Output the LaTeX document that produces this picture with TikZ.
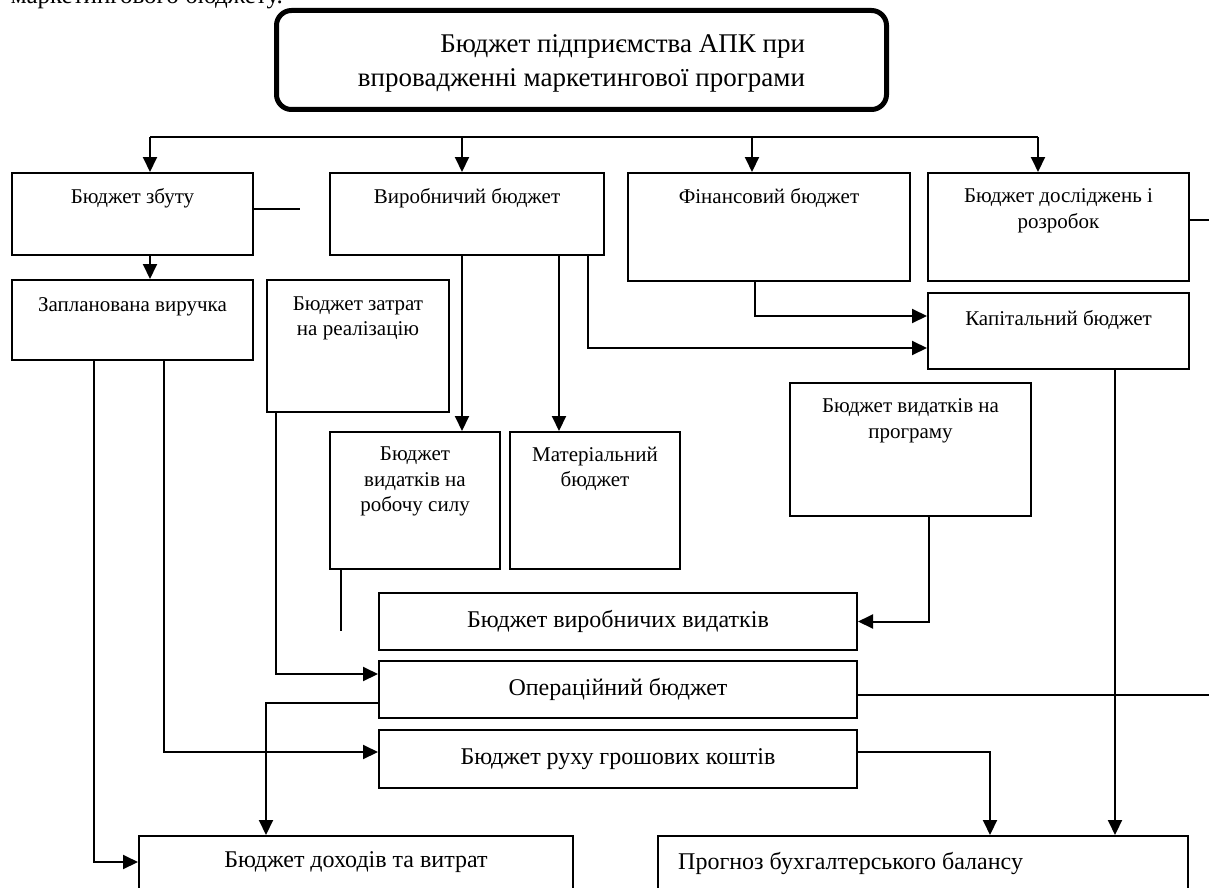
\documentclass[tikz,border=0pt]{standalone}
\usepackage{fontspec}
\setmainfont{Liberation Serif}
\usetikzlibrary{arrows.meta}
\newcommand{\smallfs}{\fontsize{21}{25.5}\selectfont}
\newcommand{\largefs}{\fontsize{24}{29}\selectfont}
\newcommand{\titlefs}{\fontsize{27}{34}\selectfont}
\tikzset{
  budg/.style={draw, line width=2pt, inner sep=0pt, anchor=north west},
  intxt/.style={anchor=north, align=center, inner sep=0pt, yshift=-#1, font=\smallfs},
  intxt/.default=16.5pt,
  arr/.style={line width=2pt, -{Triangle[length=15pt,width=14pt]}},
  ln/.style={line width=2pt}
}
\begin{document}
\begin{tikzpicture}[x=1pt,y=-1pt]
\useasboundingbox (0,0) rectangle (1209,888);
\clip (0,0) rectangle (1209,888);
\node[anchor=base east, inner sep=0pt, font=\fontsize{25}{30}\selectfont] (lead) at (283,4) {маркетингового бюджету.};
\node[budg, line width=5pt, rounded corners=15pt, minimum width=610pt, minimum height=99pt,
  label={[intxt=26pt, font=\titlefs, align=right]north:Бюджет підприємства АПК при\\впровадженні маркетингової програми}] (title) at (274,8) {};
\node[budg, minimum width=241pt, minimum height=82pt, label={[intxt]north:Бюджет збуту}] (zbut) at (11,172) {};
\node[budg, minimum width=274pt, minimum height=82pt, label={[intxt]north:Виробничий бюджет}] (vyrob) at (329,172) {};
\node[budg, minimum width=282pt, minimum height=108pt, label={[intxt]north:Фінансовий бюджет}] (fin) at (627,172) {};
\node[budg, minimum width=261pt, minimum height=108pt, label={[intxt]north:Бюджет досліджень і\\розробок}] (dosl) at (927,172) {};
\node[budg, minimum width=241pt, minimum height=80pt, label={[intxt=18pt]north:Запланована виручка}] (vyruch) at (11,279) {};
\node[budg, minimum width=182pt, minimum height=132pt, label={[intxt=17.5pt]north:Бюджет затрат\\на реалізацію}] (zatr) at (266,279) {};
\node[budg, minimum width=261pt, minimum height=76pt, label={[intxt=18pt]north:Капітальний бюджет}] (kapit) at (927,292) {};
\node[budg, minimum width=241pt, minimum height=133pt, label={[intxt]north:Бюджет видатків на\\програму}] (progr) at (789,382) {};
\node[budg, minimum width=170pt, minimum height=137pt, label={[intxt=15.7pt]north:Бюджет\\видатків на\\робочу силу}] (robsyla) at (329,431) {};
\node[budg, minimum width=170pt, minimum height=137pt, label={[intxt=15.7pt]north:Матеріальний\\бюджет}] (mater) at (509,431) {};
\node[budg, minimum width=478pt, minimum height=57pt, font=\largefs] (vyrvyd) at (378,592) {Бюджет виробничих видатків};
\node[budg, minimum width=478pt, minimum height=57pt, font=\largefs] (oper) at (378,660) {Операційний бюджет};
\node[budg, minimum width=478pt, minimum height=58pt, font=\largefs] (rukh) at (378,729) {Бюджет руху грошових коштів};
\node[budg, minimum width=434pt, minimum height=80pt, label={[intxt=16.7pt, font=\largefs]north:Бюджет доходів та витрат}] (dokh) at (138,835) {};
\node[budg, minimum width=530pt, minimum height=80pt, label={[intxt=16.7pt, font=\largefs, anchor=north west, xshift=21pt]north west:Прогноз бухгалтерського балансу}] (prohn) at (657,835) {};
\coordinate (bus) at (150,137);
\coordinate (busend) at (1038,137);
\coordinate (zstub) at (300,209);
\coordinate (dstub) at (1209,220);
\coordinate (rstub) at (341,631);
\coordinate (ostub) at (1209,695);
\draw[ln] (bus) -- (busend);
\draw[arr] (bus) -- (bus |- zbut.north);
\draw[arr] ([xshift=-5pt]vyrob.north |- bus) -- ([xshift=-5pt]vyrob.north);
\draw[arr] ([xshift=-17pt]fin.north |- bus) -- ([xshift=-17pt]fin.north);
\draw[arr] (busend) -- (busend |- dosl.north);
\draw[ln] (zstub -| zbut.east) -- (zstub);
\draw[ln] (dstub -| dosl.east) -- (dstub);
\draw[arr] (bus |- zbut.south) -- (bus |- vyruch.north);
\draw[arr] ([xshift=-5pt]vyrob.south) -- ([xshift=-5pt]vyrob.south |- robsyla.north);
\draw[arr] ([xshift=92pt]vyrob.south) -- ([xshift=92pt]vyrob.south |- mater.north);
\draw[arr] ([xshift=121pt]vyrob.south) |- ([yshift=-17pt]kapit.west);
\draw[arr] ([xshift=-14pt]fin.south) |- ([yshift=15pt]kapit.west);
\draw[arr] ([xshift=56.5pt]kapit.south) -- ([xshift=56.5pt]kapit.south |- prohn.north);
\draw[arr] ([xshift=18.5pt]progr.south) |- (vyrvyd.east);
\draw[ln] (rstub |- robsyla.south) -- (rstub);
\draw[arr] ([xshift=10pt]zatr.south west) |- ([yshift=15.5pt]oper.west);
\draw[arr] ([yshift=-13.5pt]oper.west) -| ([xshift=128pt]dokh.north west);
\draw[ln] (ostub -| oper.east) -- (ostub);
\draw[arr] ([xshift=153pt]vyruch.south west) |- ([yshift=7pt]rukh.west);
\draw[arr] ([xshift=83pt]vyruch.south west) |- ([yshift=-27pt]dokh.north west);
\draw[arr] ([yshift=7pt]rukh.east) -| ([xshift=333pt]prohn.north west);
\end{tikzpicture}
\end{document}
